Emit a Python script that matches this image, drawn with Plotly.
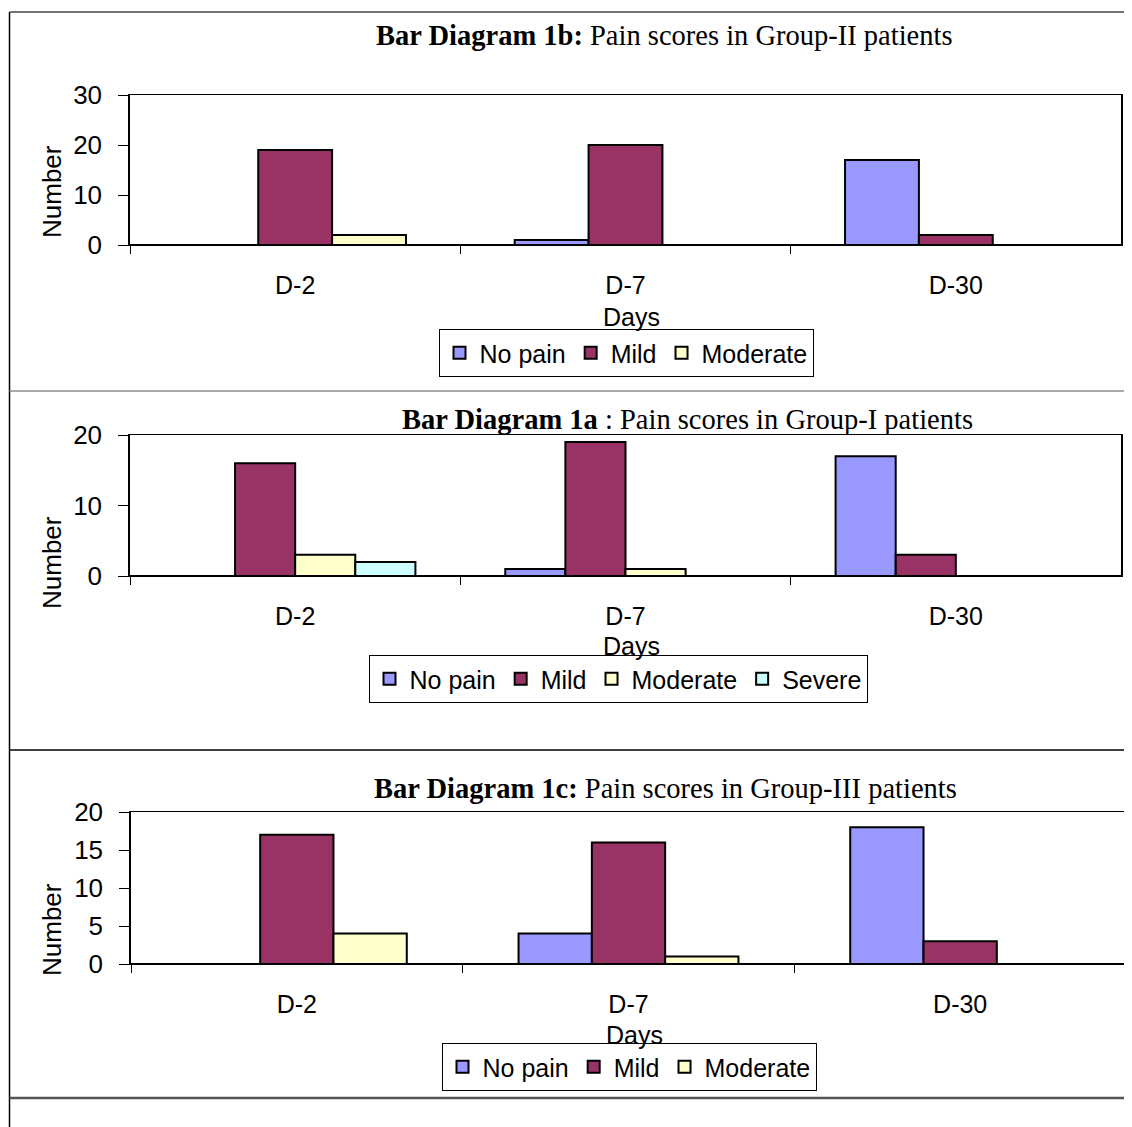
import plotly.graph_objects as go

# ---------------- data ----------------
days = ["D-2", "D-7", "D-30"]
pain_levels = ["No pain", "Mild", "Moderate", "Severe"]

# Group-II (Bar Diagram 1b)
g2_no_pain = [0, 1, 17]
g2_mild = [19, 20, 2]
g2_moderate = [2, 0, 0]

# Group-I (Bar Diagram 1a)
g1_no_pain = [0, 1, 17]
g1_mild = [16, 19, 3]
g1_moderate = [3, 1, 0]
g1_severe = [2, 0, 0]

# Group-III (Bar Diagram 1c)
g3_no_pain = [0, 4, 18]
g3_mild = [17, 16, 3]
g3_moderate = [4, 1, 0]

y_ticks_g2 = [0, 10, 20, 30]
y_ticks_g1 = [0, 10, 20]
y_ticks_g3 = [0, 5, 10, 15, 20]

# ---------------- styling ----------------
PAGE_W, PAGE_H = 1132, 1127
BODY = 8  # default page body margin in the written html
W, H = PAGE_W - BODY, PAGE_H - BODY
COLORS = {"No pain": "#9999FF", "Mild": "#993366", "Moderate": "#FFFFCC", "Severe": "#CCFFFF"}
SANS = "Liberation Sans, Arial, sans-serif"
SERIF = "Liberation Serif, Times New Roman, serif"


def px(x):
    return (x - BODY) / W


def py(y):
    return 1 - (y - BODY) / H


panels = [
    dict(ax="", legend="legend", series=[g2_no_pain, g2_mild, g2_moderate],
         ticks=y_ticks_g2, box=(130, 1121, 95, 245), barw=0.2236,
         title="<b>Bar Diagram 1b:</b> Pain scores in Group-II patients", tpos=(664, 35),
         days_pos=(631, 317), num_pos=(52, 192), leg_pos=(626, 353)),
    dict(ax="2", legend="legend2", series=[g1_no_pain, g1_mild, g1_moderate, g1_severe],
         ticks=y_ticks_g1, box=(130, 1121, 435, 576), barw=0.182,
         title="<b>Bar Diagram 1a</b> : Pain scores in Group-I patients", tpos=(687, 420),
         days_pos=(631, 646), num_pos=(52, 563), leg_pos=(618, 679)),
    dict(ax="3", legend="legend3", series=[g3_no_pain, g3_mild, g3_moderate],
         ticks=y_ticks_g3, box=(131, 1126, 812, 964), barw=0.221,
         title="<b>Bar Diagram 1c:</b> Pain scores in Group-III patients", tpos=(665, 789),
         days_pos=(634, 1035), num_pos=(52, 930), leg_pos=(629, 1067)),
]

fig = go.Figure()
annotations = []
layout_upd = {}

for p in panels:
    n = len(p["series"])
    w = p["barw"]
    for k, vals in enumerate(p["series"]):
        name = pain_levels[k]
        fig.add_trace(go.Bar(
            x=days, y=vals, name=name,
            width=w, offset=-n * w / 2 + k * w,
            marker=dict(color=COLORS[name], line=dict(color="black", width=2)),
            xaxis="x" + p["ax"], yaxis="y" + p["ax"],
            legend=p["legend"], hoverinfo="x+y+name",
        ))
    x0, x1, y0, y1 = p["box"]
    t = p["ticks"]
    layout_upd["xaxis" + p["ax"]] = dict(
        domain=[px(x0), px(x1)], anchor="y" + p["ax"],
        type="category", range=[-0.5, 2.5], automargin=False,
        showline=True, linecolor="black", linewidth=1, mirror=True,
        ticks="outside", tickson="boundaries", ticklen=8, tickcolor="black", tickwidth=1,
        ticklabelstandoff=18,
        tickfont=dict(family=SANS, size=25, color="black"),
        showgrid=False, zeroline=False, fixedrange=True,
    )
    layout_upd["yaxis" + p["ax"]] = dict(
        domain=[py(y1), py(y0)], anchor="x" + p["ax"], automargin=False,
        range=[t[0], t[-1]], tickvals=t,
        showline=True, linecolor="black", linewidth=1.5, mirror=True,
        ticks="outside", ticklen=10, tickcolor="black", tickwidth=1,
        ticklabelstandoff=11,
        tickfont=dict(family=SANS, size=26, color="black"),
        showgrid=False, zeroline=True, zerolinecolor="black", zerolinewidth=2,
        fixedrange=True,
    )
    lx, ly = p["leg_pos"]
    layout_upd[p["legend"]] = dict(
        orientation="h", x=px(lx), y=py(ly), xanchor="center", yanchor="middle",
        bordercolor="black", borderwidth=1, bgcolor="white",
        font=dict(family=SANS, size=25, color="black"),
        itemwidth=30, traceorder="normal",
    )
    tx, ty = p["tpos"]
    annotations.append(dict(text=p["title"], x=px(tx), y=py(ty), xref="paper", yref="paper",
                            xanchor="center", yanchor="middle", showarrow=False,
                            font=dict(family=SERIF, size=28.5, color="black")))
    dx, dy = p["days_pos"]
    annotations.append(dict(text="Days", x=px(dx), y=py(dy), xref="paper", yref="paper",
                            xanchor="center", yanchor="middle", showarrow=False,
                            font=dict(family=SANS, size=25, color="black")))
    nx, ny = p["num_pos"]
    annotations.append(dict(text="Number", x=px(nx), y=py(ny), xref="paper", yref="paper",
                            xanchor="center", yanchor="middle", showarrow=False, textangle=-90,
                            font=dict(family=SANS, size=26, color="black")))

shapes = [
    dict(type="line", xref="paper", yref="paper", x0=px(9.5), x1=px(9.5), y0=py(12), y1=py(PAGE_H),
         line=dict(color="black", width=1.5)),
    dict(type="line", xref="paper", yref="paper", x0=px(9.5), x1=px(PAGE_W), y0=py(12), y1=py(12),
         line=dict(color="#444444", width=1.5)),
    dict(type="line", xref="paper", yref="paper", x0=px(9.5), x1=px(PAGE_W), y0=py(391), y1=py(391),
         line=dict(color="#8c8c8c", width=1.5)),
    dict(type="line", xref="paper", yref="paper", x0=px(9.5), x1=px(PAGE_W), y0=py(750), y1=py(750),
         line=dict(color="black", width=1.5)),
    dict(type="line", xref="paper", yref="paper", x0=px(9.5), x1=px(PAGE_W), y0=py(1098), y1=py(1098),
         line=dict(color="#555555", width=2.5)),
]

fig.update_layout(
    width=W, height=H, margin=dict(l=0, r=0, t=0, b=0, autoexpand=False),
    paper_bgcolor="white", plot_bgcolor="white",
    barmode="group", showlegend=True,
    annotations=annotations, shapes=shapes,
    **layout_upd,
)

fig.write_html("out.html")
